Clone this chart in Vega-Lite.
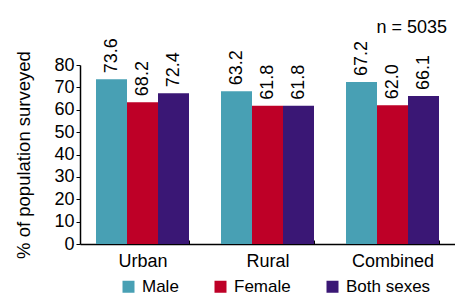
{
  "$schema": "https://vega.github.io/schema/vega-lite/v6.json",
  "width": 375,
  "height": 179,
  "autosize": {"type": "none"},
  "padding": {"left": 80, "top": 65, "right": 0, "bottom": 52},
  "background": "white",
  "config": {
    "font": "Liberation Sans",
    "view": {"stroke": null},
    "axis": {"domainColor": "black", "tickColor": "black", "labelColor": "black", "titleColor": "black", "grid": false, "labelFontWeight": "normal", "titleFontWeight": "normal"}
  },
  "title": {"text": "n = 5035", "anchor": "end", "orient": "top", "frame": "group", "fontSize": 18, "fontWeight": "normal", "color": "black", "baseline": "alphabetic", "offset": -13, "dx": -8},
  "data": {
    "values": [
      {"group": "Urban", "sex": "Male", "value": 73.6, "label": "73.6"},
      {"group": "Urban", "sex": "Female", "value": 63.4, "label": "68.2"},
      {"group": "Urban", "sex": "Both sexes", "value": 67.4, "label": "72.4"},
      {"group": "Rural", "sex": "Male", "value": 68.3, "label": "63.2"},
      {"group": "Rural", "sex": "Female", "value": 61.8, "label": "61.8"},
      {"group": "Rural", "sex": "Both sexes", "value": 61.8, "label": "61.8"},
      {"group": "Combined", "sex": "Male", "value": 72.4, "label": "67.2"},
      {"group": "Combined", "sex": "Female", "value": 62.0, "label": "62.0"},
      {"group": "Combined", "sex": "Both sexes", "value": 66.1, "label": "66.1"}
    ]
  },
  "encoding": {
    "x": {
      "field": "group", "type": "nominal", "sort": ["Urban", "Rural", "Combined"],
      "scale": {"paddingInner": 0.256, "paddingOuter": 0.128},
      "axis": {"title": null, "labelAngle": 0, "labelFontSize": 18, "tickBand": "extent", "tickSize": -4, "labelPadding": 12, "domainWidth": 1.5}
    },
    "xOffset": {"field": "sex", "type": "nominal", "sort": ["Male", "Female", "Both sexes"], "scale": {"paddingInner": 0, "paddingOuter": 0}},
    "y": {
      "field": "value", "type": "quantitative",
      "scale": {"domain": [0, 80], "nice": false},
      "axis": {"title": "% of population surveyed", "titleFontSize": 18.5, "labelFontSize": 18, "values": [0, 10, 20, 30, 40, 50, 60, 70, 80], "tickSize": 4, "labelPadding": 2, "titlePadding": 20, "domainWidth": 1.5}
    }
  },
  "layer": [
    {
      "mark": {"type": "bar"},
      "encoding": {
        "color": {
          "field": "sex", "type": "nominal", "sort": ["Male", "Female", "Both sexes"],
          "scale": {"domain": ["Male", "Female", "Both sexes"], "range": ["#48A0B4", "#BE0027", "#3A1775"]},
          "legend": {"title": null, "orient": "none", "direction": "horizontal", "legendX": 40, "legendY": 213, "symbolType": "square", "symbolSize": 144, "symbolStrokeWidth": 0, "labelFontSize": 17, "labelColor": "black", "labelOffset": 5, "columnPadding": 33, "padding": 0, "symbolOpacity": 1}
        }
      }
    },
    {
      "mark": {"type": "text", "angle": 270, "align": "left", "baseline": "middle", "dx": 6, "fontSize": 18, "color": "black"},
      "encoding": {"text": {"field": "label"}}
    }
  ]
}
